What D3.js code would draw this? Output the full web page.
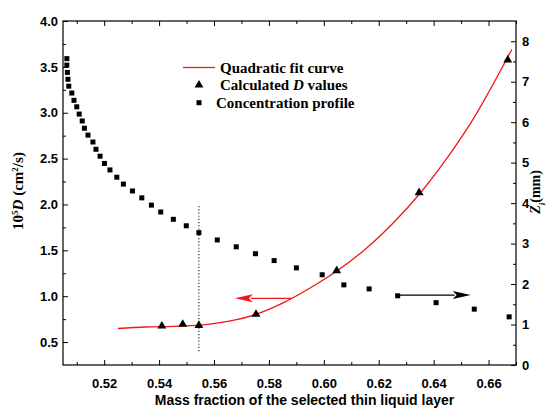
<!DOCTYPE html>
<html><head><meta charset="utf-8">
<script src="https://cdn.jsdelivr.net/npm/d3@7/dist/d3.min.js"></script>
<style>
html,body{margin:0;padding:0;background:#fff;}
svg{display:block;}
.tick text{font-family:"Liberation Sans",Arial,sans-serif;font-weight:bold;font-size:13px;fill:#000;}
</style></head>
<body>
<svg id="chart" width="549" height="409"></svg>
<script>
// Concentration profile (x: mass fraction, y: Zi in mm, right axis)
const profileX = [0.5064,0.5064,0.5066,0.5068,0.5071,0.5082,0.5090,0.5100,0.5109,0.5120,0.5128,0.5141,0.5159,0.5170,0.5185,0.5201,0.5221,0.5246,0.5270,0.5303,0.5337,0.5372,0.5406,0.5452,0.5499,0.5545,0.5612,0.5681,0.5751,0.5819,0.5900,0.5994,0.6073,0.6165,0.6269,0.6409,0.6548,0.6675];
const profileZ = [7.57,7.41,7.23,7.06,6.89,6.72,6.54,6.38,6.20,6.03,5.85,5.68,5.51,5.33,5.16,4.98,4.82,4.64,4.47,4.30,4.13,3.95,3.78,3.60,3.44,3.27,3.09,2.92,2.75,2.58,2.40,2.23,1.98,1.88,1.71,1.54,1.38,1.19];
// Calculated D values (left axis, 10^5 D in cm^2/s)
const calcX = [0.5410,0.5486,0.5545,0.5753,0.6047,0.6347,0.6670];
const calcD = [0.675,0.694,0.681,0.803,1.278,2.129,3.576];
// Quadratic fit curve points
const fitX = [0.525,0.535,0.545,0.555,0.565,0.575,0.585,0.595,0.605,0.615,0.625,0.635,0.645,0.655,0.6685];
const fitD = [0.648,0.664,0.672,0.685,0.725,0.800,0.925,1.090,1.280,1.510,1.790,2.120,2.510,2.960,3.690];
// Tick values
const xTicks = [0.52,0.54,0.56,0.58,0.60,0.62,0.64,0.66];
const xMinor = [0.51,0.53,0.55,0.57,0.59,0.61,0.63,0.65,0.67];
const yLTicks = [0.5,1.0,1.5,2.0,2.5,3.0,3.5,4.0];
const yLMinor = [0.75,1.25,1.75,2.25,2.75,3.25,3.75];
const yRTicks = [0,1,2,3,4,5,6,7,8];
const yRMinor = [0.5,1.5,2.5,3.5,4.5,5.5,6.5,7.5];
// Legend entries
const legendLabels = ["Quadratic fit curve","Calculated D values","Concentration profile"];
// Annotations: dotted marker line (left axis units) and arrows
const markerLineX = 0.5545, markerLineD = [0.40, 2.0];
const redArrow = {x0:0.5883, x1:0.5676, d:0.977};      // left axis
const blackArrow = {x0:0.6269, x1:0.6535, z:1.728};     // right axis

const svg = d3.select("#chart");
const L=63, R=516, T=21, B=365;
const x = d3.scaleLinear([0.505,0.67],[L,R]);
const yL = d3.scaleLinear([0.25,4.0],[B,T]);
const yR = d3.scaleLinear([0,8.5],[B,T]);
const red = "#f01818";

function clean(g){ g.select(".domain").remove(); g.selectAll("line").attr("stroke","#000").attr("stroke-width",1); }

// bottom
svg.append("g").attr("transform",`translate(0,${B})`)
  .call(d3.axisBottom(x).tickValues(xTicks).tickSize(-5).tickPadding(14).tickFormat(d3.format(".2f"))).call(clean);
svg.append("g").attr("transform",`translate(0,${B})`)
  .call(d3.axisBottom(x).tickValues(xMinor).tickSize(-3).tickFormat("")).call(clean);
// top
svg.append("g").attr("transform",`translate(0,${T})`)
  .call(d3.axisTop(x).tickValues(xTicks).tickSize(-5).tickFormat("")).call(clean);
svg.append("g").attr("transform",`translate(0,${T})`)
  .call(d3.axisTop(x).tickValues(xMinor).tickSize(-3).tickFormat("")).call(clean);
// left
svg.append("g").attr("transform",`translate(${L},0)`)
  .call(d3.axisLeft(yL).tickValues(yLTicks).tickSize(-5).tickPadding(5).tickFormat(d3.format(".1f"))).call(clean);
svg.append("g").attr("transform",`translate(${L},0)`)
  .call(d3.axisLeft(yL).tickValues(yLMinor).tickSize(-3).tickFormat("")).call(clean);
// right
svg.append("g").attr("transform",`translate(${R},0)`)
  .call(d3.axisRight(yR).tickValues(yRTicks).tickSize(-5).tickPadding(6).tickFormat(d3.format("d"))).call(clean);
svg.append("g").attr("transform",`translate(${R},0)`)
  .call(d3.axisRight(yR).tickValues(yRMinor).tickSize(-3).tickFormat("")).call(clean);

// frame
svg.append("rect").attr("x",L).attr("y",T).attr("width",R-L).attr("height",B-T)
  .attr("fill","none").attr("stroke","#000").attr("stroke-width",1.2);

// dotted marker line
svg.append("line").attr("x1",x(markerLineX)).attr("x2",x(markerLineX))
  .attr("y1",yL(markerLineD[0])).attr("y2",yL(markerLineD[1]))
  .attr("stroke","#333").attr("stroke-width",1.2).attr("stroke-dasharray","1.2,2");

// fit curve
const fitData = fitX.map((v,i)=>[v,fitD[i]]);
svg.append("path").datum(fitData)
  .attr("d",d3.line().x(d=>x(d[0])).y(d=>yL(d[1])).curve(d3.curveCatmullRom))
  .attr("fill","none").attr("stroke",red).attr("stroke-width",1.3);

// squares
const sq = 5;
svg.append("g").selectAll("rect").data(profileX.map((v,i)=>[v,profileZ[i]])).join("rect")
  .attr("x",d=>x(d[0])-sq/2).attr("y",d=>yR(d[1])-sq/2).attr("width",sq).attr("height",sq).attr("fill","#000");

// triangles
const tri = d3.symbol().type(d3.symbolTriangle).size(34);
svg.append("g").selectAll("path").data(calcX.map((v,i)=>[v,calcD[i]])).join("path")
  .attr("d",tri).attr("transform",d=>`translate(${x(d[0])},${yL(d[1])})`).attr("fill","#000");

// arrows
function arrow(x0,x1,y,color){
  const dir = Math.sign(x1-x0), len=18, hh=4;
  svg.append("line").attr("x1",x0).attr("x2",x1-dir*len+dir*2).attr("y1",y).attr("y2",y)
    .attr("stroke",color).attr("stroke-width",1.2);
  svg.append("path").attr("d",`M${x1},${y}L${x1-dir*len},${y-hh}L${x1-dir*len+dir*4},${y}L${x1-dir*len},${y+hh}Z`)
    .attr("fill",color);
}
arrow(x(redArrow.x0),x(redArrow.x1),yL(redArrow.d),red);
arrow(x(blackArrow.x0),x(blackArrow.x1),yR(blackArrow.z),"#000");

// legend
const lg = svg.append("g").attr("font-family","'Liberation Serif','Times New Roman',serif")
  .attr("font-weight","bold").attr("font-size","15px");
lg.append("line").attr("x1",183).attr("x2",215).attr("y1",67.5).attr("y2",67.5).attr("stroke",red).attr("stroke-width",1.3);
lg.append("text").attr("x",220).attr("y",67.5).attr("dy","0.35em").text(legendLabels[0]);
lg.append("path").attr("d",tri).attr("transform","translate(199,85)").attr("fill","#000");
const t2 = lg.append("text").attr("x",220).attr("y",85).attr("dy","0.35em");
t2.append("tspan").text("Calculated ");
t2.append("tspan").attr("font-style","italic").text("D");
t2.append("tspan").text(" values");
lg.append("rect").attr("x",199-2.5).attr("y",102.7-2.5).attr("width",5).attr("height",5).attr("fill","#000");
lg.append("text").attr("x",216).attr("y",102.7).attr("dy","0.35em").text(legendLabels[2]);

// axis titles
svg.append("text").attr("x",(L+R)/2+15).attr("y",405)
  .attr("text-anchor","middle").attr("font-family","'Liberation Sans',Arial,sans-serif")
  .attr("font-weight","bold").attr("font-size","14px").text("Mass fraction of the selected thin liquid layer");

const lt = svg.append("text").attr("transform","translate(18,191) rotate(-90)")
  .attr("text-anchor","middle").attr("dy","0.35em")
  .attr("font-family","'Liberation Serif','Times New Roman',serif").attr("font-weight","bold").attr("font-size","15px");
lt.append("tspan").text("10");
lt.append("tspan").attr("baseline-shift","super").attr("font-size","9px").text("5");
lt.append("tspan").attr("font-style","italic").text("D");
lt.append("tspan").text(" (cm");
lt.append("tspan").attr("baseline-shift","super").attr("font-size","9px").text("2");
lt.append("tspan").text("/s)");

const rt = svg.append("text").attr("transform","translate(535,192) rotate(-90)")
  .attr("text-anchor","middle").attr("dy","0.35em")
  .attr("font-family","'Liberation Serif','Times New Roman',serif").attr("font-weight","bold").attr("font-size","14px");
rt.append("tspan").attr("font-style","italic").text("Z");
rt.append("tspan").attr("baseline-shift","sub").attr("font-size","9px").attr("font-style","italic").text("i");
rt.append("tspan").text("(mm)");
</script>
</body></html>
